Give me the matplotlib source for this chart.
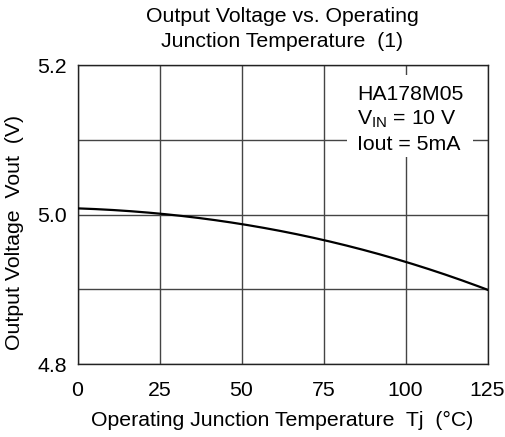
import matplotlib
matplotlib.use("Agg")
import matplotlib.pyplot as plt
from matplotlib.patches import Rectangle
import numpy as np

temps = [0, 12.5, 25, 37.5, 50, 62.5, 75, 87.5, 100, 112.5, 125]
vout = [5.008, 5.0055, 5.0017, 4.995, 4.9875, 4.977, 4.965, 4.952, 4.938, 4.919, 4.899]
xticks = [0, 25, 50, 75, 100, 125]
yticks = [4.8, 4.9, 5.0, 5.1, 5.2]
ylabels = ["4.8", "", "5.0", "", "5.2"]
title_lines = ["Output Voltage vs. Operating", "Junction Temperature  (1)"]
note_lines = ["HA178M05", "$\\mathregular{V_{IN}}$ = 10 V", "Iout = 5mA"]

plt.rcParams['font.family'] = ['Liberation Sans', 'DejaVu Sans']
FS = 15.3

W, H = 505, 437
fig = plt.figure(figsize=(W / 100, H / 100), dpi=100)
L, R, T, B = 77.5, 487.5, 65, 364
ax = fig.add_axes([L / W, 1 - B / H, (R - L) / W, (B - T) / H])

xs = np.linspace(0, 125, 300)
coef = np.polyfit(temps, vout, 3)
ax.plot(xs, np.polyval(coef, xs), color='black', lw=1.6, zorder=3)

ax.set_xlim(0, 125)
ax.set_ylim(4.8, 5.2)
ax.set_xticks(xticks)
ax.set_yticks(yticks)
ax.set_yticklabels(ylabels)
ax.set_axisbelow(True)
ax.grid(True, color='#444444', lw=1.0)
ax.tick_params(length=0, labelsize=FS, colors='black')
ax.tick_params(axis='x', pad=12)
ax.tick_params(axis='y', pad=7.5)
for s in ax.spines.values():
    s.set_color('#222222')
    s.set_linewidth(1.0)

def ax_y(py):
    return (B - py) / (B - T)

def ax_x(px):
    return (px - L) / (R - L)

ax.set_xlabel("Operating Junction Temperature  Tj  (°C)", fontsize=FS)
ax.xaxis.set_label_coords(0.5, ax_y(411))
ax.set_ylabel("Output Voltage  Vout  (V)", fontsize=FS)
ax.yaxis.set_label_coords(ax_x(24), ax_y(232))

fig.text(282 / W, 1 - 22 / H, title_lines[0], ha='center', va='baseline', fontsize=FS)
fig.text(282 / W, 1 - 47 / H, title_lines[1], ha='center', va='baseline', fontsize=FS)

ax.add_patch(Rectangle((ax_x(347), ax_y(157)), ax_x(473) - ax_x(347), ax_y(75) - ax_y(157),
                       transform=ax.transAxes, facecolor='white', edgecolor='none', zorder=1))
for line, py in zip(note_lines, [100, 125, 150]):
    ax.text(ax_x(357), ax_y(py), line, transform=ax.transAxes, ha='left', va='baseline',
            fontsize=FS, zorder=4)

fig.savefig("out.png", dpi=100)
